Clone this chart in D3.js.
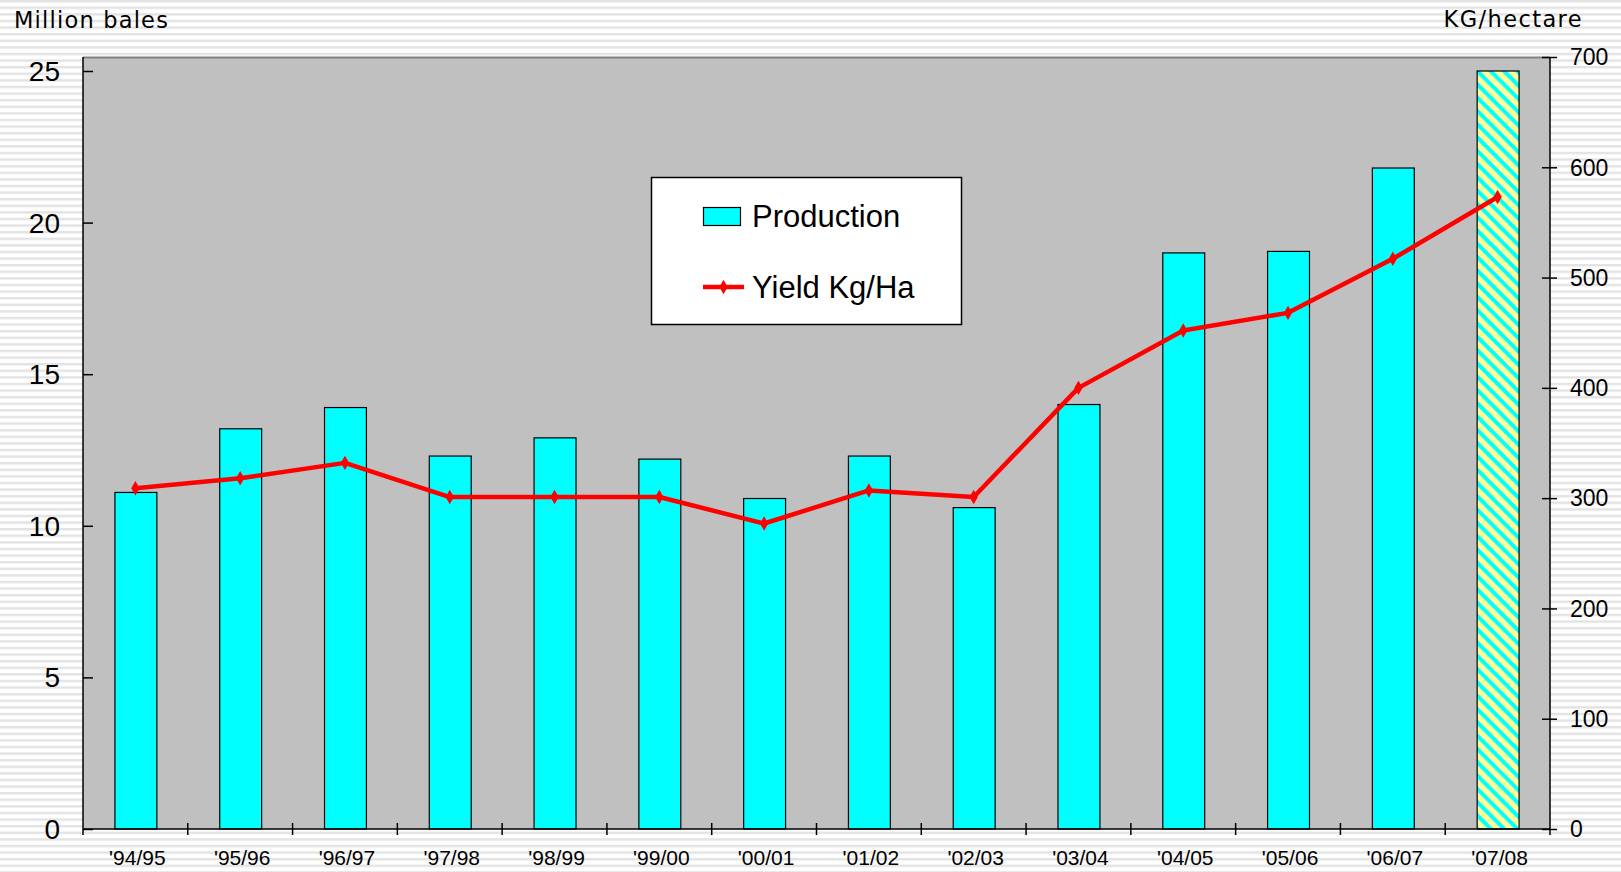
<!DOCTYPE html>
<html><head><meta charset="utf-8">
<script src="https://cdn.jsdelivr.net/npm/d3@7"></script>
<style>html,body{margin:0;padding:0;background:#fff;}svg{display:block;}</style>
</head><body>
<svg id="chart" width="1621" height="872"></svg>
<script>
const seasons = ["'94/95","'95/96","'96/97","'97/98","'98/99","'99/00","'00/01","'01/02","'02/03","'03/04","'04/05","'05/06","'06/07","'07/08"];
const production = [11.1, 13.2, 13.9, 12.3, 12.9, 12.2, 10.9, 12.3, 10.6, 14.0, 19.0, 19.05, 21.8, 25.0];
const yieldKgHa = [309, 318, 332, 301, 301, 301, 277, 307, 301, 400, 452, 468, 517, 573];
const leftTicks = [0, 5, 10, 15, 20, 25];
const rightTicks = [0, 100, 200, 300, 400, 500, 600, 700];
const forecastSeason = "'07/08";

const svg = d3.select("#chart");
const W = 1621, H = 872;
const defs = svg.append("defs");

// background horizontal stripes
const bg = defs.append("pattern").attr("id","bgstripe").attr("patternUnits","userSpaceOnUse")
  .attr("width", 10).attr("height", 6.6);
bg.append("rect").attr("width",10).attr("height",6.6).attr("fill","#ffffff");
bg.append("rect").attr("y",0).attr("width",10).attr("height",2.4).attr("fill","#e3e3e3");
svg.append("rect").attr("width",W).attr("height",H).attr("fill","url(#bgstripe)");

// hatch
const hatch = defs.append("pattern").attr("id","hatch").attr("patternUnits","userSpaceOnUse")
  .attr("width", 10).attr("height", 9.4).attr("patternTransform","rotate(45)");
hatch.append("rect").attr("width",10).attr("height",9.4).attr("fill","#ffff99");
hatch.append("rect").attr("y",0).attr("width",10).attr("height",4).attr("fill","#00ffff");

const plotL = 83, plotR = 1550, plotT = 57, plotB = 829;

const x = d3.scaleBand().domain(seasons).range([plotL, plotR]).paddingInner(0.6).paddingOuter(0.3);
const xb = d3.scaleBand().domain(seasons).range([plotL, plotR]);
const yL = d3.scaleLinear().domain([0, 25]).range([plotB, 71]);
const yR = d3.scaleLinear().domain([0, 700]).range([plotB, plotT]);

// plot area
svg.append("rect").attr("x",plotL).attr("y",plotT).attr("width",plotR-plotL).attr("height",plotB-plotT).attr("fill","#c0c0c0");
svg.append("line").attr("x1",plotL).attr("x2",plotR).attr("y1",plotT+0.5).attr("y2",plotT+0.5).attr("stroke","#808080").attr("stroke-width",2);

// bars
svg.append("g").selectAll("rect").data(seasons).join("rect")
  .attr("x", d => x(d)+0.5)
  .attr("y", (d,i) => yL(production[i]))
  .attr("width", x.bandwidth())
  .attr("height", (d,i) => plotB - yL(production[i]))
  .attr("fill", d => d === forecastSeason ? "url(#hatch)" : "#00ffff")
  .attr("stroke","#000").attr("stroke-width",1.2);

// left axis
const gL = svg.append("g").attr("transform",`translate(${plotL},0)`)
  .call(d3.axisRight(yL).tickValues(leftTicks).tickSize(10).tickFormat(""));
gL.select(".domain").remove();
gL.selectAll(".tick line").attr("stroke","#000").attr("stroke-width",1.5);
svg.append("line").attr("x1",plotL).attr("x2",plotL).attr("y1",plotT).attr("y2",plotB+6).attr("stroke","#000").attr("stroke-width",1.5);
svg.append("g").selectAll("text").data(leftTicks).join("text")
  .attr("x", 60).attr("y", d => yL(d)).attr("dy","0.36em")
  .attr("text-anchor","end").attr("font-family","Liberation Sans, Arial, sans-serif").attr("font-size",28).attr("fill","#000")
  .text(d => d);

// right axis
const gR = svg.append("g").attr("transform",`translate(${plotR},0)`)
  .call(d3.axisRight(yR).tickValues(rightTicks).tickSizeInner(7).tickSizeOuter(0).tickFormat(""));
gR.select(".domain").remove();
gR.selectAll(".tick line").attr("x1",-8).attr("x2",7).attr("stroke","#000").attr("stroke-width",1.5);
svg.append("line").attr("x1",plotR).attr("x2",plotR).attr("y1",plotT).attr("y2",plotB+6).attr("stroke","#000").attr("stroke-width",1.5);
svg.append("g").selectAll("text").data(rightTicks).join("text")
  .attr("x", 1570).attr("y", d => yR(d)).attr("dy","0.36em")
  .attr("text-anchor","start").attr("font-family","Liberation Sans, Arial, sans-serif").attr("font-size",23).attr("fill","#000")
  .text(d => d);

// bottom axis
svg.append("line").attr("x1",plotL).attr("x2",plotR).attr("y1",plotB).attr("y2",plotB).attr("stroke","#000").attr("stroke-width",1.5);
const bounds = seasons.map(d => xb(d)).concat([plotR]).slice(1, -1);
svg.append("g").selectAll("line").data(bounds).join("line")
  .attr("x1", d => d).attr("x2", d => d).attr("y1", plotB-6).attr("y2", plotB+6)
  .attr("stroke","#000").attr("stroke-width",1.5);
svg.append("g").selectAll("text").data(seasons).join("text")
  .attr("x", d => xb(d) + xb.bandwidth()/2 + 2).attr("y", 865)
  .attr("text-anchor","middle").attr("font-family","Liberation Sans, Arial, sans-serif").attr("font-size",21).attr("fill","#000")
  .text(d => d);

// yield line
const line = d3.line().x((d,i) => xb(seasons[i]) + xb.bandwidth()/2).y(d => yR(d));
svg.append("path").datum(yieldKgHa).attr("d", line).attr("fill","none").attr("stroke","#ff0000").attr("stroke-width",4.5).attr("stroke-linejoin","round");
const diamond = d3.symbol().type(d3.symbolDiamond).size(60);
svg.append("g").selectAll("path").data(yieldKgHa).join("path")
  .attr("transform",(d,i) => `translate(${xb(seasons[i]) + xb.bandwidth()/2},${yR(d)})`)
  .attr("d", diamond).attr("fill","#ff0000");

// axis titles
svg.append("text").attr("x",14).attr("y",28).attr("font-family","DejaVu Sans, Verdana, sans-serif").attr("font-size",22.5).attr("letter-spacing",1.2).attr("fill","#000").text("Million bales");
svg.append("text").attr("x",1583).attr("y",27).attr("text-anchor","end").attr("font-family","DejaVu Sans, Verdana, sans-serif").attr("font-size",22.5).attr("letter-spacing",1.4).attr("fill","#000").text("KG/hectare");

// legend
const lg = svg.append("g");
lg.append("rect").attr("x",651.5).attr("y",177.5).attr("width",310).attr("height",147).attr("fill","#fff").attr("stroke","#000").attr("stroke-width",1.5);
lg.append("rect").attr("x",703.5).attr("y",207.5).attr("width",37).attr("height",18).attr("fill","#00ffff").attr("stroke","#000").attr("stroke-width",1.2);
lg.append("text").attr("x",752).attr("y",227).attr("font-family","Liberation Sans, Arial, sans-serif").attr("font-size",31).attr("fill","#000").text("Production");
lg.append("line").attr("x1",703).attr("x2",744).attr("y1",287).attr("y2",287).attr("stroke","#ff0000").attr("stroke-width",4.5);
lg.append("path").attr("transform","translate(723.5,287)").attr("d",diamond).attr("fill","#ff0000");
lg.append("text").attr("x",752).attr("y",298).attr("font-family","Liberation Sans, Arial, sans-serif").attr("font-size",31).attr("fill","#000").text("Yield Kg/Ha");
</script>
</body></html>
